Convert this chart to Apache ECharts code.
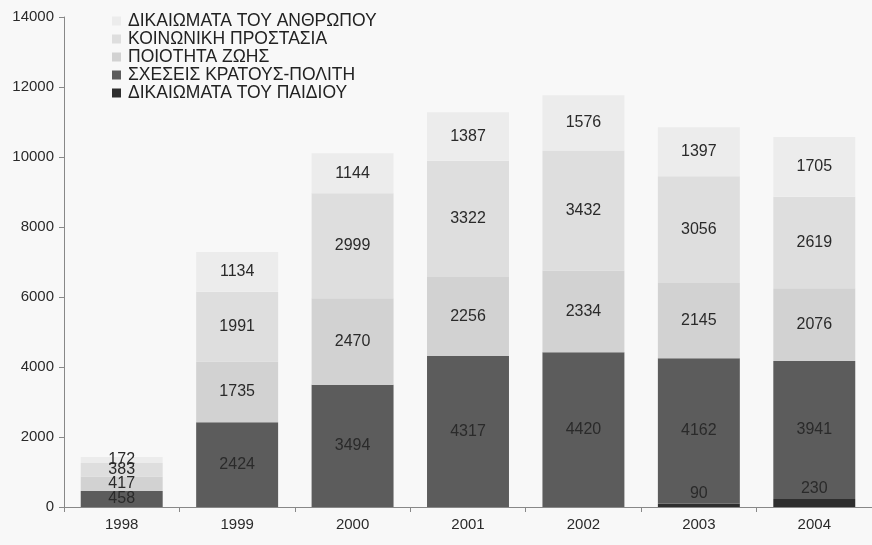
<!DOCTYPE html>
<html>
<head>
<meta charset="utf-8">
<script src="https://cdn.jsdelivr.net/npm/echarts@6/dist/echarts.min.js"></script>
<style>
html,body{margin:0;padding:0;background:#f8f8f8;}
#c{width:872px;height:545px;}
</style>
</head>
<body>
<div id="c"></div>
<script>
var years = ['1998','1999','2000','2001','2002','2003','2004'];
var paidiou = [0, 0, 0, 0, 0, 90, 230];
var sxeseis = [458, 2424, 3494, 4317, 4420, 4162, 3941];
var poiotita = [417, 1735, 2470, 2256, 2334, 2145, 2076];
var koinoniki = [383, 1991, 2999, 3322, 3432, 3056, 2619];
var anthropou = [172, 1134, 1144, 1387, 1576, 1397, 1705];
var yTicks = [0, 2000, 4000, 6000, 8000, 10000, 12000, 14000];

var names = ['ΔΙΚΑΙΩΜΑΤΑ ΤΟΥ ΠΑΙΔΙΟΥ','ΣΧΕΣΕΙΣ ΚΡΑΤΟΥΣ-ΠΟΛΙΤΗ','ΠΟΙΟΤΗΤΑ ΖΩΗΣ','ΚΟΙΝΩΝΙΚΗ ΠΡΟΣΤΑΣΙΑ','ΔΙΚΑΙΩΜΑΤΑ ΤΟΥ ΑΝΘΡΩΠΟΥ'];
var datas = [paidiou, sxeseis, poiotita, koinoniki, anthropou];
var colors = ['#2e2e2e','#5c5c5c','#d2d2d2','#dedede','#ececec'];
var font = 'Liberation Sans, Arial, sans-serif';

var series = names.map(function(n, i){
  return {
    name: n, type: 'bar', stack: 'a', data: datas[i],
    barWidth: '71%',
    itemStyle: {color: colors[i]},
    label: {
      show: true,
      position: i === 0 ? 'top' : 'inside',
      distance: 2,
      color: '#2a2a2a',
      fontFamily: font,
      fontSize: 16,
      formatter: function(p){ return p.value ? String(p.value) : ''; }
    }
  };
});

var chart = echarts.init(document.getElementById('c'));
chart.setOption({
  backgroundColor: '#f8f8f8',
  animation: false,
  legend: {
    orient: 'vertical',
    left: 112, top: 12,
    padding: 0,
    data: names.slice().reverse(),
    icon: 'rect',
    itemWidth: 9, itemHeight: 9,
    itemGap: 0,
    textStyle: {fontFamily: font, fontSize: 17.5, lineHeight: 17, color: '#222', padding: [0,0,0,2]}
  },
  grid: {left: 64, top: 17, width: 821, height: 490},
  xAxis: {
    type: 'category', data: years,
    axisLine: {lineStyle: {color: '#888'}},
    axisTick: {show: true, length: 5, lineStyle: {color: '#888'}},
    axisLabel: {fontFamily: font, fontSize: 15, color: '#2a2a2a', margin: 10}
  },
  yAxis: {
    type: 'value', min: 0, max: 14000, interval: 2000,
    axisLine: {show: true, lineStyle: {color: '#888'}},
    axisTick: {show: true, length: 5, lineStyle: {color: '#888'}},
    splitLine: {show: false},
    axisLabel: {fontFamily: font, fontSize: 15, color: '#2a2a2a', margin: 10,
      formatter: function(v){ return yTicks.indexOf(v) >= 0 ? String(v) : ''; }}
  },
  series: series
});
</script>
</body>
</html>
